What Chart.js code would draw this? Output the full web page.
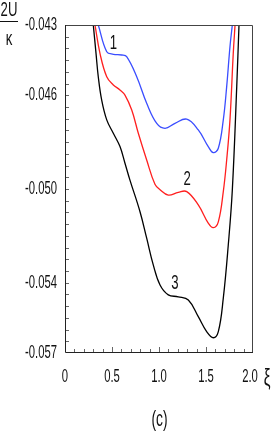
<!DOCTYPE html>
<html>
<head>
<meta charset="utf-8">
<script src="https://cdn.jsdelivr.net/npm/chart.js@4/dist/chart.umd.min.js"></script>
<style>
  body { margin: 0; background: #ffffff; }
  #wrap { width: 273px; height: 436px; }
</style>
</head>
<body>
<div id="wrap"><canvas id="c" width="273" height="436"></canvas></div>
<script>
// curve 1 (blue)
const blueXi = [0.354, 0.444, 0.514, 0.603, 0.656, 0.763, 0.869, 0.976, 1.064, 1.170, 1.295, 1.418, 1.524, 1.578, 1.631, 1.684, 1.720, 1.755, 1.780];
const blueU  = [-0.0430, -0.04414, -0.04425, -0.04428, -0.04435, -0.04521, -0.04634, -0.04720, -0.04741, -0.04720, -0.04702, -0.04748, -0.04819, -0.04845, -0.04826, -0.04705, -0.04563, -0.04393, -0.0430];
// curve 2 (red)
const redXi = [0.319, 0.372, 0.444, 0.514, 0.585, 0.638, 0.710, 0.780, 0.869, 0.957, 1.011, 1.099, 1.205, 1.295, 1.418, 1.524, 1.578, 1.631, 1.684, 1.720, 1.755, 1.790, 1.809];
const redU  = [-0.0430, -0.04421, -0.04521, -0.04556, -0.04577, -0.04599, -0.04663, -0.04762, -0.04876, -0.04980, -0.05003, -0.05026, -0.05014, -0.05011, -0.05068, -0.05146, -0.05165, -0.05140, -0.05011, -0.04876, -0.04705, -0.04421, -0.0430];
// curve 3 (black)
const blackXi = [0.301, 0.330, 0.354, 0.390, 0.444, 0.514, 0.585, 0.638, 0.691, 0.798, 0.869, 0.939, 1.011, 1.099, 1.205, 1.312, 1.418, 1.507, 1.578, 1.631, 1.684, 1.737, 1.780, 1.827, 1.851];
const blackU  = [-0.0430, -0.04421, -0.04521, -0.04620, -0.04705, -0.04762, -0.04819, -0.04890, -0.04962, -0.05097, -0.05210, -0.05324, -0.05410, -0.05452, -0.05460, -0.05474, -0.05545, -0.05609, -0.05635, -0.05609, -0.05466, -0.05239, -0.05004, -0.04563, -0.0430];

const curveNames = ['1', '2', '3'];
const curveLabelXi = [0.514, 1.30, 1.17];
const curveLabelU = [-0.04378, -0.04959, -0.05402];

const xTickValues = [0, 0.5, 1.0, 1.5, 2.0];
const xTickLabels = ['0', '0.5', '1.0', '1.5', '2.0'];
const yTickValues = [-0.043, -0.046, -0.050, -0.054, -0.057];
const yTickLabels = ['-0.043', '-0.046', '-0.050', '-0.054', '-0.057'];

function toPoints(xs, ys){
	return xs.map((x, i) => ({x: x, y: ys[i]}));
}

const FONT = "'Liberation Sans Narrow', 'Liberation Sans', Arial, sans-serif";

// squeezed text, like the narrow labels of the original figure
function squeezeText(ctx, text, x, y, size, align, squeeze){
	ctx.save();
	ctx.font = size + 'px ' + FONT;
	ctx.translate(x, y);
	ctx.scale(squeeze, 1);
	ctx.textAlign = align;
	ctx.textBaseline = 'middle';
	ctx.fillText(text, 0, 0);
	ctx.restore();
}

const decorPlugin = {
	id: 'decor',
	afterDraw(chart){
		const ctx = chart.ctx;
		const xs = chart.scales.x;
		const ys = chart.scales.y;
		const area = chart.chartArea;

		ctx.save();
		ctx.font = '18px ' + FONT;
		const squeeze = 32 / ctx.measureText('-0.043').width;

		// frame
		ctx.strokeStyle = '#444';
		ctx.lineWidth = 1;
		ctx.beginPath();
		ctx.moveTo(area.left + 0.5, area.top + 0.5);
		ctx.lineTo(area.right - 0.5, area.top + 0.5);
		ctx.lineTo(area.right - 0.5, area.bottom - 0.5);
		ctx.stroke();
		ctx.strokeStyle = '#222';
		ctx.beginPath();
		ctx.moveTo(area.left + 0.5, area.top);
		ctx.lineTo(area.left + 0.5, area.bottom - 0.5);
		ctx.lineTo(area.right, area.bottom - 0.5);
		ctx.stroke();

		// inward tick marks
		ctx.strokeStyle = '#666';
		ctx.beginPath();
		for(let i = 1; i < 20; i++){
			const px = Math.round(xs.getPixelForValue(i / 10)) + 0.5;
			const len = (i % 5 == 0) ? 5 : 3;
			ctx.moveTo(px, area.bottom - 1);
			ctx.lineTo(px, area.bottom - 1 - len);
		}
		for(let i = 1; i < 28; i++){
			const py = Math.round(ys.getPixelForValue(-0.057 + i * 0.0005)) + 0.5;
			ctx.moveTo(area.left + 1, py);
			ctx.lineTo(area.left + 4, py);
		}
		ctx.stroke();

		// tick labels
		ctx.fillStyle = '#111';
		xTickValues.forEach((v, i) => {
			let px = xs.getPixelForValue(v);
			if(i == xTickValues.length - 1) px -= 3;
			squeezeText(ctx, xTickLabels[i], px, 377, 18, 'center', squeeze);
		});
		yTickValues.forEach((v, i) => {
			squeezeText(ctx, yTickLabels[i], 57, ys.getPixelForValue(v), 18, 'right', squeeze);
		});

		// axis titles
		squeezeText(ctx, 'ξ', 267, 379, 24, 'center', squeeze);
		squeezeText(ctx, '2U', 9, 10, 21, 'center', squeeze);
		ctx.fillRect(0, 21, 18, 1);
		squeezeText(ctx, 'κ', 9, 39, 21, 'center', squeeze);
		squeezeText(ctx, '(c)', 159.5, 420, 22, 'center', squeeze);

		// curve numbers
		curveNames.forEach((name, i) => {
			squeezeText(ctx, name, xs.getPixelForValue(curveLabelXi[i]), ys.getPixelForValue(curveLabelU[i]), 21, 'center', squeeze);
		});
		ctx.restore();
	}
};

const chartData = {
	type: 'line',
	data: {
		datasets: [
			{ label: '1', data: toPoints(blueXi, blueU), borderColor: '#3a4dff' },
			{ label: '2', data: toPoints(redXi, redU), borderColor: '#ff1f1f' },
			{ label: '3', data: toPoints(blackXi, blackU), borderColor: '#000000' }
		]
	},
	options: {
		responsive: false,
		animation: false,
		devicePixelRatio: 1,
		layout: { padding: { left: 65, right: 20, top: 25, bottom: 83 } },
		elements: {
			point: { radius: 0 },
			line: { borderWidth: 1.3, tension: 0.4, fill: false }
		},
		scales: {
			x: { type: 'linear', min: 0, max: 2, display: false },
			y: { type: 'linear', min: -0.057, max: -0.043, display: false }
		},
		plugins: {
			legend: { display: false },
			tooltip: { enabled: false }
		}
	},
	plugins: [decorPlugin]
};

new Chart(document.getElementById('c'), chartData);
</script>
</body>
</html>
